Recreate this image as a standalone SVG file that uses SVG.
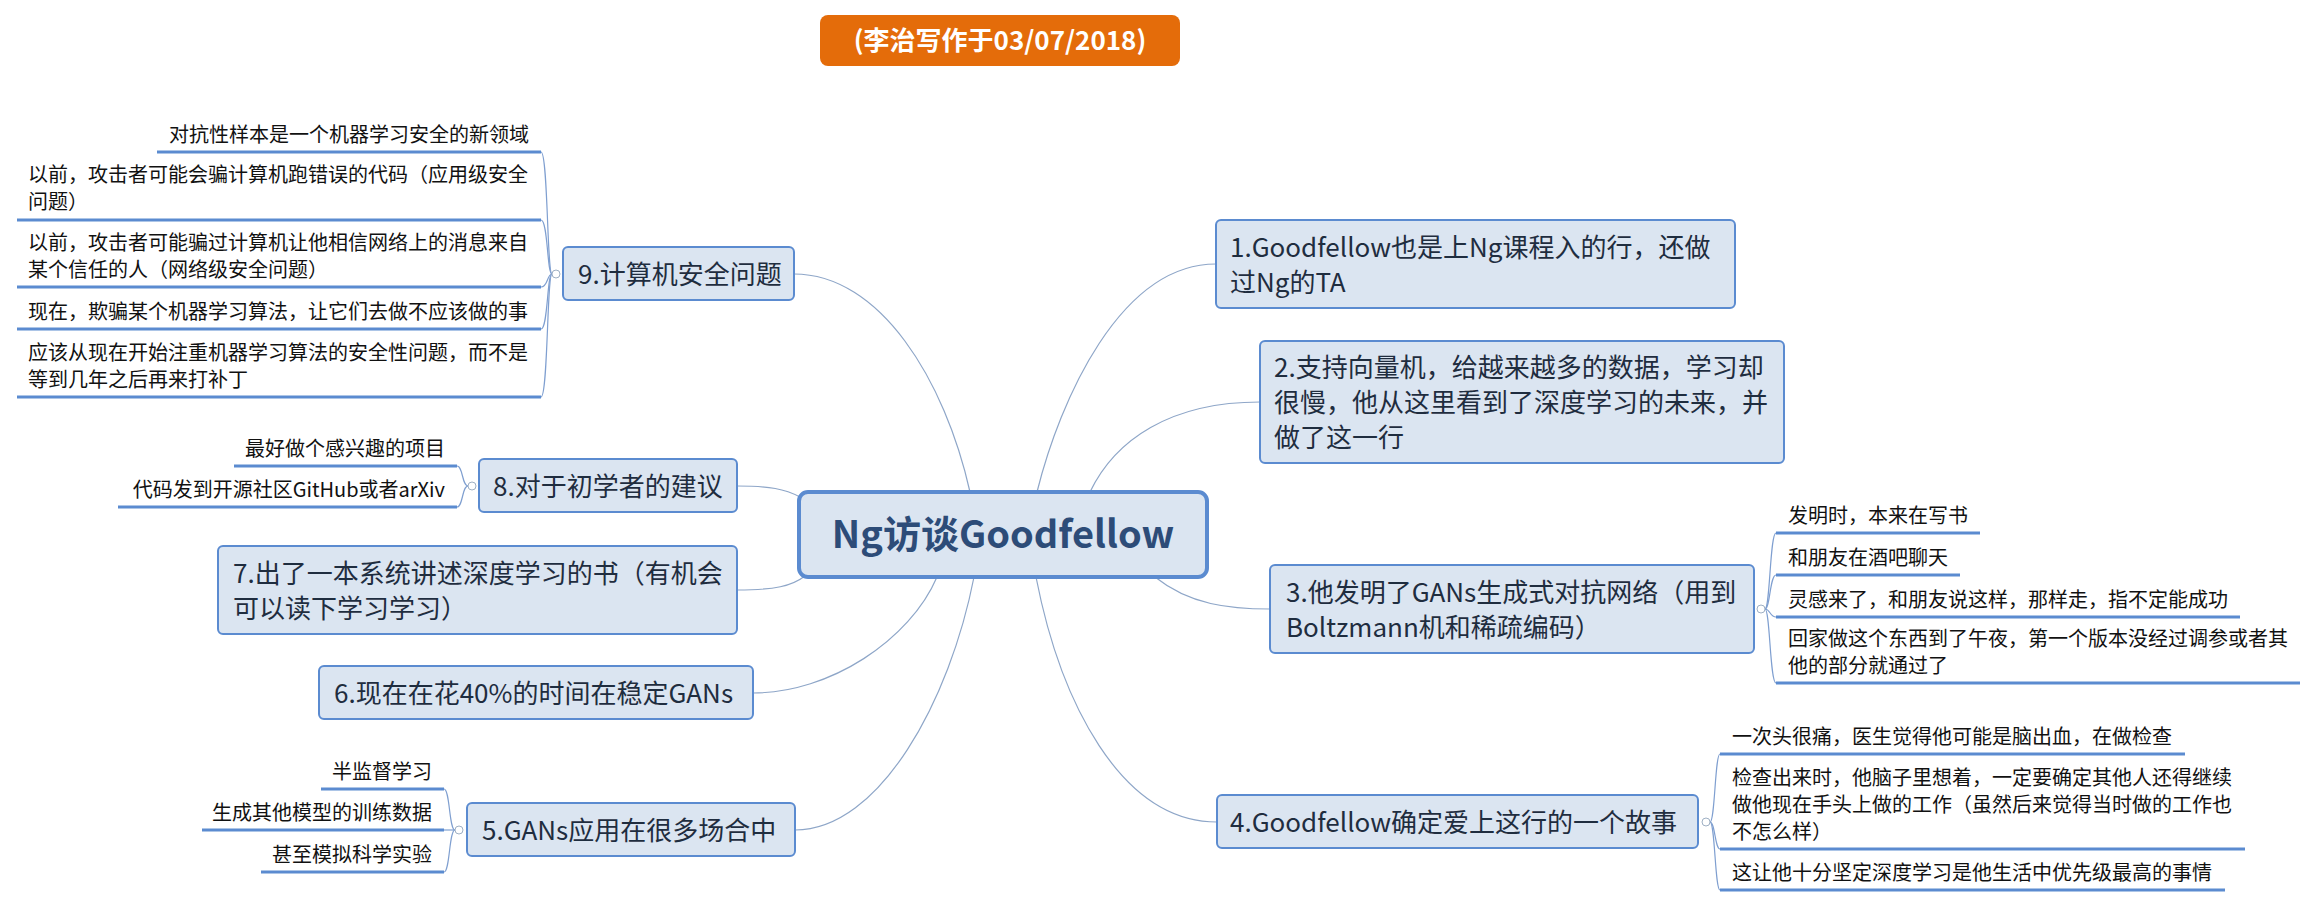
<svg xmlns="http://www.w3.org/2000/svg" width="2318" height="907" viewBox="0 0 2318 907">
<style>
text{font-family:"Noto Sans CJK SC","Microsoft YaHei",sans-serif}
.node rect{fill:#dbe5f1;stroke:#5b8bd0;stroke-width:2}
.nt{font-size:26px;fill:#1f2d3f}
.ct{font-size:20px;fill:#111}
.ul{stroke:#5b8bd0;stroke-width:3}
.conn path{fill:none;stroke:#8ea6c8;stroke-width:1.2}
.br path{fill:none;stroke:#7f9fd0;stroke-width:1.2}
.col{fill:#fff;stroke:#9fb0c4;stroke-width:1}
</style>
<rect width="2318" height="907" fill="#fff"/>
<g id="title">
<rect x="820" y="15" width="360" height="51" rx="8" fill="#e46c0a"/>
<text x="1000" y="50" text-anchor="middle" font-size="26" font-weight="bold" fill="#fff">(李治写作于03/07/2018)</text>
</g>
<g id="connectors" class="conn">
<path d="M794,274 C880,274 945,380 970,492"/>
<path d="M1037,492 C1060,400 1120,264 1216,264"/>
<path d="M1090,492 C1115,440 1170,402 1260,402"/>
<path d="M737,486 C770,486 785,489 800,497"/>
<path d="M737,590 C775,590 792,586 805,576"/>
<path d="M753,693 C830,693 910,640 937,577"/>
<path d="M795,830 C880,830 950,700 974,577"/>
<path d="M1036,577 C1060,700 1120,822 1217,822"/>
<path d="M1155,577 C1190,605 1230,609 1270,609"/>
</g>
<g id="center">
<rect x="799" y="492" width="408" height="85" rx="9" fill="#dbe5f1" stroke="#5b8bd0" stroke-width="4"/>
<text x="1003" y="548" text-anchor="middle" font-size="38" font-weight="bold" fill="#2d4c78">Ng访谈Goodfellow</text>
</g>
<g id="n1" class="node">
<rect x="1216" y="220" width="519" height="88" rx="5"/>
<text class="nt" x="1230" y="257">1.Goodfellow也是上Ng课程入的行，还做</text>
<text class="nt" x="1230" y="292">过Ng的TA</text>
</g>
<g id="n2" class="node">
<rect x="1260" y="341" width="524" height="122" rx="5"/>
<text class="nt" x="1274" y="377">2.支持向量机，给越来越多的数据，学习却</text>
<text class="nt" x="1274" y="412">很慢，他从这里看到了深度学习的未来，并</text>
<text class="nt" x="1274" y="447">做了这一行</text>
</g>
<g id="n3" class="node">
<rect x="1270" y="565" width="484" height="88" rx="5"/>
<text class="nt" x="1286" y="602">3.他发明了GANs生成式对抗网络（用到</text>
<text class="nt" x="1286" y="637">Boltzmann机和稀疏编码）</text>
</g>
<g id="n3c" class="br">
<path d="M1765,609 C1770,609 1770,533 1776,533"/>
<path d="M1765,609 C1770,609 1770,575 1776,575"/>
<path d="M1765,609 C1770,609 1770,617 1776,617"/>
<path d="M1765,609 C1770,609 1770,683 1776,683"/>
<circle class="col" cx="1761" cy="609" r="4"/>
<line class="ul" x1="1776" y1="533" x2="1980" y2="533"/>
<line class="ul" x1="1776" y1="575" x2="1960" y2="575"/>
<line class="ul" x1="1776" y1="617" x2="2240" y2="617"/>
<line class="ul" x1="1776" y1="683" x2="2300" y2="683"/>
<text class="ct" x="1788" y="523">发明时，本来在写书</text>
<text class="ct" x="1788" y="565">和朋友在酒吧聊天</text>
<text class="ct" x="1788" y="607">灵感来了，和朋友说这样，那样走，指不定能成功</text>
<text class="ct" x="1788" y="646">回家做这个东西到了午夜，第一个版本没经过调参或者其</text>
<text class="ct" x="1788" y="673">他的部分就通过了</text>
</g>
<g id="n4" class="node">
<rect x="1217" y="795" width="481" height="53" rx="5"/>
<text class="nt" x="1230" y="832">4.Goodfellow确定爱上这行的一个故事</text>
</g>
<g id="n4c" class="br">
<path d="M1710,822 C1715,822 1715,754 1720,754"/>
<path d="M1710,822 C1715,822 1715,849 1720,849"/>
<path d="M1710,822 C1715,822 1715,890 1720,890"/>
<circle class="col" cx="1706" cy="822" r="4"/>
<line class="ul" x1="1720" y1="754" x2="2185" y2="754"/>
<line class="ul" x1="1720" y1="849" x2="2245" y2="849"/>
<line class="ul" x1="1720" y1="890" x2="2225" y2="890"/>
<text class="ct" x="1732" y="744">一次头很痛，医生觉得他可能是脑出血，在做检查</text>
<text class="ct" x="1732" y="785">检查出来时，他脑子里想着，一定要确定其他人还得继续</text>
<text class="ct" x="1732" y="812">做他现在手头上做的工作（虽然后来觉得当时做的工作也</text>
<text class="ct" x="1732" y="839">不怎么样）</text>
<text class="ct" x="1732" y="880">这让他十分坚定深度学习是他生活中优先级最高的事情</text>
</g>
<g id="n5" class="node">
<rect x="467" y="803" width="328" height="53" rx="5"/>
<text class="nt" x="482" y="840">5.GANs应用在很多场合中</text>
</g>
<g id="n5c" class="br">
<path d="M455,830 C449,830 450,789 444,789"/>
<path d="M455,830 C449,830 450,830 444,830"/>
<path d="M455,830 C449,830 450,872 444,872"/>
<circle class="col" cx="459" cy="830" r="4"/>
<line class="ul" x1="321" y1="789" x2="444" y2="789"/>
<line class="ul" x1="202" y1="830" x2="444" y2="830"/>
<line class="ul" x1="261" y1="872" x2="444" y2="872"/>
<text class="ct" x="432" y="779" text-anchor="end">半监督学习</text>
<text class="ct" x="432" y="820" text-anchor="end">生成其他模型的训练数据</text>
<text class="ct" x="432" y="862" text-anchor="end">甚至模拟科学实验</text>
</g>
<g id="n6" class="node">
<rect x="319" y="666" width="434" height="53" rx="5"/>
<text class="nt" x="334" y="703">6.现在在花40%的时间在稳定GANs</text>
</g>
<g id="n7" class="node">
<rect x="218" y="546" width="519" height="88" rx="5"/>
<text class="nt" x="233" y="583">7.出了一本系统讲述深度学习的书（有机会</text>
<text class="nt" x="233" y="618">可以读下学习学习）</text>
</g>
<g id="n8" class="node">
<rect x="479" y="459" width="258" height="53" rx="5"/>
<text class="nt" x="493" y="496">8.对于初学者的建议</text>
</g>
<g id="n8c" class="br">
<path d="M468,486 C462,486 463,466 457,466"/>
<path d="M468,486 C462,486 463,507 457,507"/>
<circle class="col" cx="472" cy="486" r="4"/>
<line class="ul" x1="234" y1="466" x2="457" y2="466"/>
<line class="ul" x1="118" y1="507" x2="457" y2="507"/>
<text class="ct" x="445" y="456" text-anchor="end">最好做个感兴趣的项目</text>
<text class="ct" x="445" y="497" text-anchor="end">代码发到开源社区GitHub或者arXiv</text>
</g>
<g id="n9" class="node">
<rect x="563" y="247" width="231" height="53" rx="5"/>
<text class="nt" x="578" y="284">9.计算机安全问题</text>
</g>
<g id="n9c" class="br">
<path d="M552,274 C547,274 548,152 541,152"/>
<path d="M552,274 C547,274 548,220 541,220"/>
<path d="M552,274 C547,274 548,287 541,287"/>
<path d="M552,274 C547,274 548,329 541,329"/>
<path d="M552,274 C547,274 548,397 541,397"/>
<circle class="col" cx="556" cy="274" r="4"/>
<line class="ul" x1="157" y1="152" x2="541" y2="152"/>
<line class="ul" x1="17" y1="220" x2="541" y2="220"/>
<line class="ul" x1="17" y1="287" x2="541" y2="287"/>
<line class="ul" x1="17" y1="329" x2="541" y2="329"/>
<line class="ul" x1="17" y1="397" x2="541" y2="397"/>
<text class="ct" x="529" y="142" text-anchor="end">对抗性样本是一个机器学习安全的新领域</text>
<text class="ct" x="28" y="182">以前，攻击者可能会骗计算机跑错误的代码（应用级安全</text>
<text class="ct" x="28" y="209">问题）</text>
<text class="ct" x="28" y="250">以前，攻击者可能骗过计算机让他相信网络上的消息来自</text>
<text class="ct" x="28" y="277">某个信任的人（网络级安全问题）</text>
<text class="ct" x="28" y="319">现在，欺骗某个机器学习算法，让它们去做不应该做的事</text>
<text class="ct" x="28" y="360">应该从现在开始注重机器学习算法的安全性问题，而不是</text>
<text class="ct" x="28" y="387">等到几年之后再来打补丁</text>
</g>
</svg>
